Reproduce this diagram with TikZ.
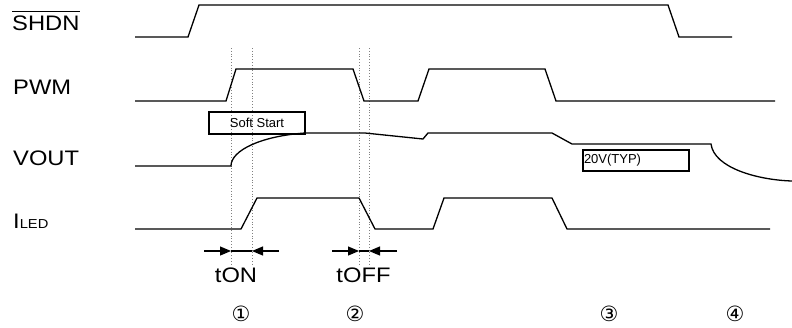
\documentclass[tikz,border=0pt]{standalone}
\usepackage{fontspec}
\setmainfont{Liberation Sans}
\newfontfamily\labfont[FakeStretch=1.13]{Liberation Sans}
\newfontfamily\circfont{DejaVu Sans}
\usetikzlibrary{arrows.meta}
\begin{document}
\begin{tikzpicture}[x=1pt,y=-1pt,
  sig/.style={line width=1.3pt, line join=miter},
  guide/.style={gray, dotted, line width=0.8pt},
  big/.style={font=\labfont\fontsize{21}{25}\selectfont, inner sep=0pt, anchor=base west},
  boxed/.style={draw, line width=1.1pt, font=\fontsize{13}{15}\selectfont, inner sep=0pt},
  circ/.style={font=\circfont\fontsize{21}{24}\selectfont, inner sep=0pt},
  meas/.style={line width=1.2pt, -{Triangle[length=11pt,width=9pt]}}]
\useasboundingbox (0,0) rectangle (792,327);

% labels
\node[big] (shdn) at (12,30) {SHDN};
\draw[line width=1pt] ([yshift=4pt]shdn.north west) -- ([yshift=4pt]shdn.north east);
\node[big] (pwm) at (13,94) {PWM};
\node[big] (vout) at (13,165) {VOUT};
\node[big] (iled) at (13,228) {I\fontsize{13}{15}\selectfont LED};

% guides
\foreach \gx in {231,252,359,369} \draw[guide] (\gx,48) -- (\gx,264);

% boxes
\node[boxed, minimum width=96pt, minimum height=22pt] (soft) at (257,123) {Soft Start};
\node[boxed, minimum height=21pt, text width=104pt, inner xsep=1pt, align=left] (typ) at (636,160.5) {20V(TYP)};

% waveforms
\draw[sig] (135,37) -- (188,37) -- (199,5) -- (668,5) -- (679,37) -- (732,37);
\draw[sig] (135,101) -- (226,101) -- (236,69) -- (353,69) -- (364,101) -- (418,101) -- (429,69) -- (545,69) -- (556,101) -- (775,101);
\draw[sig] (135,166) -- (231,166) .. controls (231,150) and (262,136) .. (305,133) -- (365,133) -- (423,139) -- (428,133) -- (552,133) -- (572,144) -- (711,144) .. controls (714,168) and (758,180) .. (792,181);
\draw[sig] (135,229) -- (241,229) -- (257,198) -- (359,198) -- (375,229) -- (433,229) -- (444,198) -- (552,198) -- (567,229) -- (770,229);

% measurement arrows
\coordinate (a1) at (204,251); \coordinate (d1) at (231,251);
\coordinate (d2) at (252,251); \coordinate (a2) at (279,251);
\draw[meas] (a1) -- (d1); \draw[line width=1.2pt] (d1) -- (d2); \draw[meas] (a2) -- (d2);
\coordinate (b1) at (332,251); \coordinate (e1) at (359,251);
\coordinate (e2) at (369,251); \coordinate (b2) at (397,251);
\draw[meas] (b1) -- (e1); \draw[line width=1.2pt] (e1) -- (e2); \draw[meas] (b2) -- (e2);

\node[big, anchor=base] (ton) at (236,282) {tON};
\node[big, anchor=base] (toff) at (363.5,282) {tOFF};

% circled numbers
\node[circ] (n1) at (241,314) {①};
\node[circ] (n2) at (355,314) {②};
\node[circ] (n3) at (609,314) {③};
\node[circ] (n4) at (735,314) {④};
\end{tikzpicture}
\end{document}
